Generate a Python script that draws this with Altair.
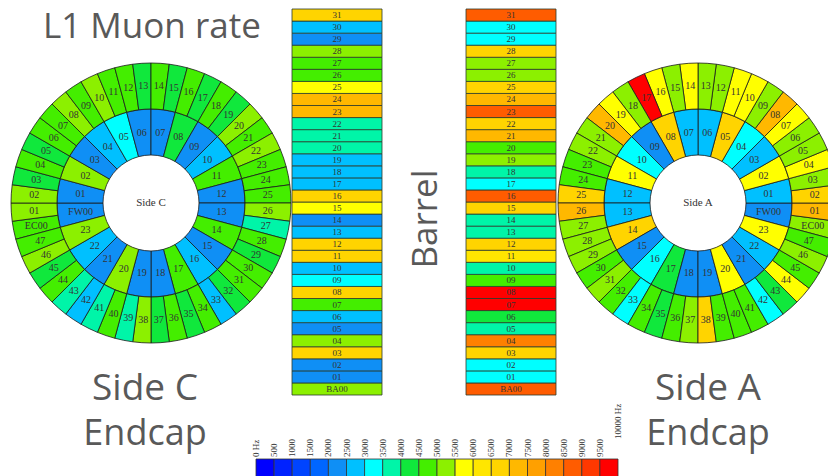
import math
import altair as alt
import pandas as pd

# ---------------- data ----------------
bin_edges = [0, 500, 1000, 1500, 2000, 2500, 3000, 3500, 4000, 4500, 5000,
             5500, 6000, 6500, 7000, 7500, 8000, 8500, 9000, 9500, 10000]
bin_colors = ["#0000ff", "#0022ff", "#0044ff", "#0066ff", "#0f8ff5", "#00c0ff",
              "#00ffff", "#00f5a8", "#10e83c", "#44ee00", "#8cf000", "#ffff00",
              "#ffe600", "#ffd400", "#ffb800", "#ffa000", "#ff8000", "#ff5c00",
              "#ff3800", "#ff0000"]
tick_labels = ["0 Hz", "500", "1000", "1500", "2000", "2500", "3000", "3500",
               "4000", "4500", "5000", "5500", "6000", "6500", "7000", "7500",
               "8000", "8500", "9000", "9500", "10000 Hz"]

inner_labels = ["FW00"] + [f"{i:02d}" for i in range(1, 24)]
outer_labels = ["EC00"] + [f"{i:02d}" for i in range(1, 48)]
barrel_labels = ["BA00"] + [f"{i:02d}" for i in range(1, 32)]

# rates in Hz, sector order FW00/EC00/BA00, 01, 02, ...
side_c_inner = [2250, 2300, 5200, 2200, 2700, 3200, 2300, 2250, 4300, 2200, 2800, 4700,
                2300, 2250, 4800, 2200, 2700, 4700, 2300, 2250, 5300, 2200, 2800, 5200]
side_c_outer = [4700, 5200, 5300, 4300, 4700, 4300, 4800, 4700, 5200, 4700, 5300, 4700,
                4800, 4300, 4700, 4300, 4700, 4300, 4700, 4300, 5300, 4700, 5200, 4700,
                4800, 4700, 5300, 3700, 4700, 4300, 4700, 4800, 4300, 2800, 4700, 4300,
                4700, 4300, 5200, 3800, 4700, 3700, 2700, 3800, 4700, 4300, 5300, 4700]
side_a_inner = [2250, 2750, 5800, 2700, 3200, 6700, 2800, 2750, 6800, 2300, 3300, 5800,
                2700, 2750, 6700, 2250, 3250, 4300, 2200, 2300, 5800, 2250, 2800, 5900]
side_a_outer = [5200, 7200, 6800, 5300, 5800, 5200, 5300, 5800, 7300, 5200, 5800, 5700,
                5300, 5200, 5900, 5300, 5800, 9800, 5200, 5800, 7200, 5300, 5200, 4700,
                4700, 6700, 7300, 5200, 5300, 5200, 4700, 5300, 4800, 3200, 4700, 4300,
                4700, 5200, 6800, 4700, 4800, 4700, 3300, 4300, 5800, 4700, 5300, 4700]
barrel_c = [5200, 2250, 2300, 6800, 5300, 2200, 2750, 4700, 6700, 3250, 2800, 6800,
            6700, 2750, 2250, 5800, 6800, 2700, 2800, 2750, 3750, 3700, 3800, 7300,
            7200, 5800, 4700, 4800, 5200, 2250, 2800, 6800]
barrel_a = [8700, 3200, 3300, 6700, 8200, 3750, 4300, 9700, 9800, 4700, 3700, 6300,
            6700, 3800, 3700, 6800, 8800, 3200, 3700, 5200, 4700, 7200, 6800, 8700,
            7300, 6700, 5300, 5200, 6800, 3300, 3200, 8800]

# ---------------- layout ----------------
W, H = 820, 468
C_CX, C_CY = 143, 195
A_CX, A_CY = 690, 195
R_HOLE, R_MID, R_OUT = 48, 94, 140
TEXT = "#595959"
SANS = "Open Sans"
SERIF = "Liberation Serif"

color_scale = alt.Scale(type="threshold", domain=bin_edges[1:-1], range=bin_colors)
color_enc = alt.Color("rate:Q", scale=color_scale, legend=None)


def ring_df(labels, rates, start_deg, direction, r0, r1):
    n = len(labels)
    step = 360.0 / n
    rows = []
    for k, (lab, rate) in enumerate(zip(labels, rates)):
        if direction > 0:
            a0 = start_deg + step * k
        else:
            a0 = start_deg - step * (k + 1)
        a0 = a0 % 360
        rows.append(dict(label=lab, rate=rate,
                         t0=math.radians(a0), t1=math.radians(a0 + step),
                         tm=math.radians(a0 + step / 2),
                         r0=r0, r1=r1, rm=(r0 + r1) / 2))
    return pd.DataFrame(rows)


def ring_layers(df, cx, cy, fs):
    arcs = alt.Chart(df).mark_arc(stroke="#1a1a1a", strokeWidth=0.8).encode(
        theta=alt.Theta("t0:Q", scale=None, stack=None),
        theta2="t1:Q",
        radius=alt.Radius("r1:Q", scale=None),
        radius2="r0:Q",
        color=color_enc,
        x=alt.value(cx), y=alt.value(cy),
    )
    txt = alt.Chart(df).mark_text(font=SERIF, fontSize=fs, color="#333333",
                                  baseline="middle", align="center").encode(
        theta=alt.Theta("tm:Q", scale=None, stack=None),
        radius=alt.Radius("rm:Q", scale=None),
        text="label:N",
        x=alt.value(cx), y=alt.value(cy),
    )
    return [arcs, txt]


layers = []
# Side C (clockwise from the left)
layers += ring_layers(ring_df(inner_labels, side_c_inner, -105, 1, R_HOLE, R_MID), C_CX, C_CY, 10)
layers += ring_layers(ring_df(outer_labels, side_c_outer, -105, 1, R_MID, R_OUT), C_CX, C_CY, 10)
# Side A (counter-clockwise from the right)
layers += ring_layers(ring_df(inner_labels, side_a_inner, 105, -1, R_HOLE, R_MID), A_CX, A_CY, 10)
layers += ring_layers(ring_df(outer_labels, side_a_outer, 105, -1, R_MID, R_OUT), A_CX, A_CY, 10)

# Barrel columns
order = list(reversed(barrel_labels))
y_enc = alt.Y("label:N", scale=alt.Scale(domain=order, range=[1, 387],
                                          paddingInner=0, paddingOuter=0), axis=None)
for rates, x0, x1 in [(barrel_c, 284, 374), (barrel_a, 458, 548)]:
    bdf = pd.DataFrame({"label": barrel_labels, "rate": rates})
    layers.append(alt.Chart(bdf).mark_rect(stroke="#2b3b2b", strokeWidth=0.8).encode(
        y=y_enc, x=alt.value(x0), x2=alt.value(x1), color=color_enc))
    layers.append(alt.Chart(bdf).mark_text(font=SERIF, fontSize=9, color="#333333").encode(
        y=y_enc, x=alt.value((x0 + x1) / 2), text="label:N"))

# Color bar
cb = pd.DataFrame({"lo": bin_edges[:-1], "hi": bin_edges[1:],
                   "rate": [(a + b) / 2 for a, b in zip(bin_edges[:-1], bin_edges[1:])]})
x_cb = alt.Scale(domain=[0, 10000], range=[248, 610])
layers.append(alt.Chart(cb).mark_rect(stroke="#333333", strokeWidth=0.8).encode(
    x=alt.X("lo:Q", scale=x_cb, axis=None), x2="hi:Q",
    y=alt.value(451), y2=alt.value(475), color=color_enc))
tk = pd.DataFrame({"v": bin_edges[:-1], "t": tick_labels[:-1]})
layers.append(alt.Chart(tk).mark_text(font=SERIF, fontSize=9, color="#333333", angle=270,
                                      align="left", baseline="middle").encode(
    x=alt.X("v:Q", scale=x_cb, axis=None), y=alt.value(449), text="t:N"))
tk_last = pd.DataFrame({"v": bin_edges[-1:], "t": tick_labels[-1:]})
layers.append(alt.Chart(tk_last).mark_text(font=SERIF, fontSize=9, color="#333333", angle=270,
                                           align="left", baseline="middle").encode(
    x=alt.X("v:Q", scale=x_cb, axis=None), y=alt.value(431), text="t:N"))


def label(text, x, y, size, font=SANS, color=TEXT, angle=0, align="center", baseline="alphabetic"):
    return alt.Chart(pd.DataFrame({"t": [text]})).mark_text(
        font=font, fontSize=size, color=color, angle=angle, align=align, baseline=baseline
    ).encode(x=alt.value(x), y=alt.value(y), text="t:N")


layers.append(label("L1 Muon rate", 35, 30, 35, align="left"))
layers.append(label("Barrel", 429, 211, 35, angle=270))
layers.append(label("Side C", 137, 392, 37))
layers.append(label("Endcap", 137, 437, 36))
layers.append(label("Side A", 700, 392, 37))
layers.append(label("Endcap", 700, 437, 36))
layers.append(label("Side C", C_CX, C_CY, 11, font=SERIF, color="#333333", baseline="middle"))
layers.append(label("Side A", A_CX, A_CY, 11, font=SERIF, color="#333333", baseline="middle"))

chart = alt.layer(*layers).properties(
    width=W, height=H, padding=0,
    autosize=alt.AutoSizeParams(type="none"),
    background="white",
).configure_view(strokeWidth=0)

chart.save("out.html", embed_options={"renderer": "svg", "actions": False})
